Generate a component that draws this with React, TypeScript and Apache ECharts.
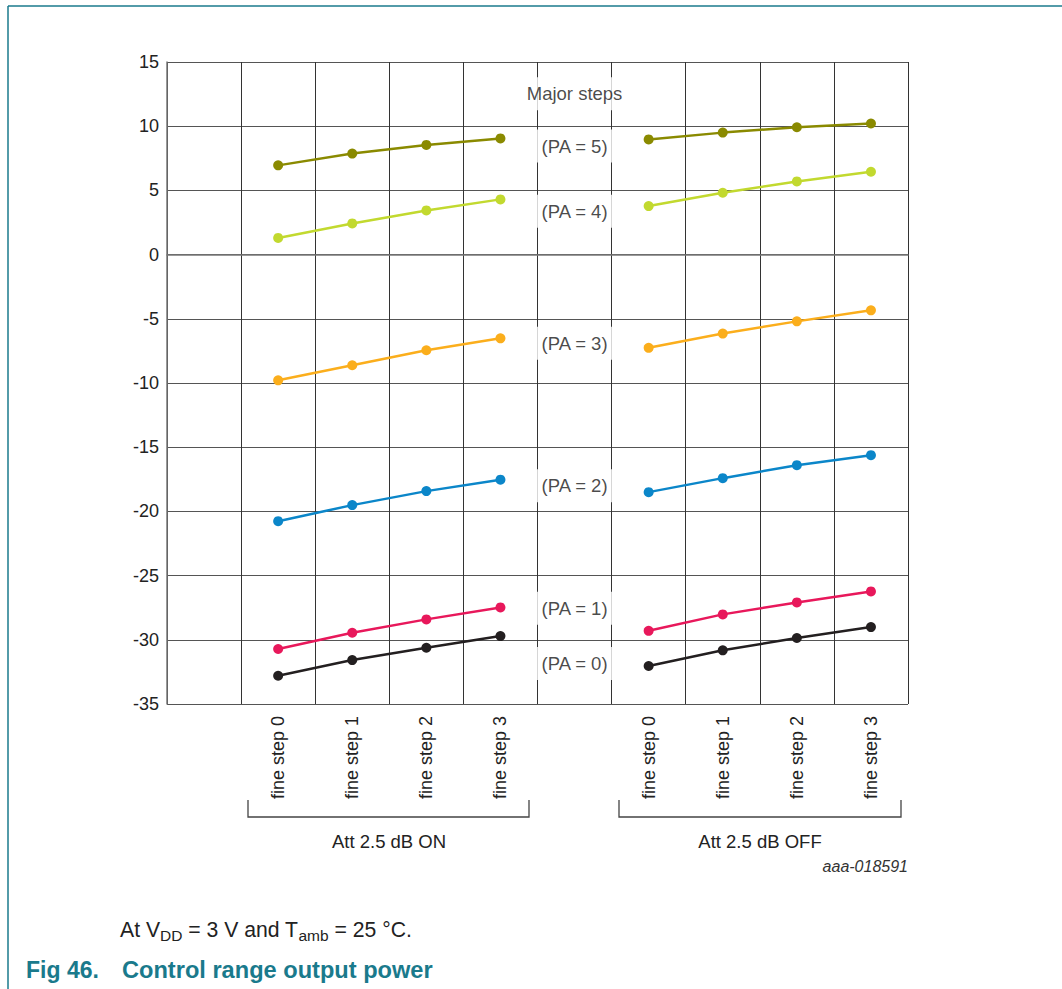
import React, { useEffect, useRef } from "react";
import * as echarts from "echarts";

const categories = [
  "",
  "fine step 0",
  "fine step 1",
  "fine step 2",
  "fine step 3",
  "",
  "fine step 0",
  "fine step 1",
  "fine step 2",
  "fine step 3",
];

const pa5 = [null, 6.95, 7.87, 8.54, 9.05, null, 8.97, 9.5, 9.92, 10.21];
const pa4 = [null, 1.3, 2.43, 3.44, 4.3, null, 3.78, 4.82, 5.7, 6.45];
const pa3 = [null, -9.79, -8.62, -7.45, -6.52, null, -7.26, -6.15, -5.2, -4.34];
const pa2 = [null, -20.76, -19.51, -18.42, -17.53, null, -18.5, -17.41, -16.4, -15.62];
const pa1 = [null, -30.72, -29.45, -28.41, -27.48, null, -29.3, -28.02, -27.09, -26.23];
const pa0 = [null, -32.8, -31.58, -30.62, -29.71, null, -32.04, -30.82, -29.86, -29.01];

const seriesNames = ["PA = 5", "PA = 4", "PA = 3", "PA = 2", "PA = 1", "PA = 0"];
const seriesValues = [pa5, pa4, pa3, pa2, pa1, pa0];
const seriesColors = ["#8a8a00", "#c2d92f", "#fbae1c", "#0b86c9", "#e8185b", "#231f20"];

const annotationTexts = ["Major steps", "(PA = 5)", "(PA = 4)", "(PA = 3)", "(PA = 2)", "(PA = 1)", "(PA = 0)"];
const annotationValues = [12.53, 8.45, 3.37, -6.9, -18.0, -27.55, -31.85];
const annotationCategoryIndex = 5;

const yMin = -35;
const yMax = 15;
const yInterval = 5;

const FONT = '"Liberation Sans", Arial, Helvetica, sans-serif';
const TEAL = "#1a7a8c";

export default function App() {
  const ref = useRef<HTMLDivElement>(null);

  useEffect(() => {
    if (!ref.current) return;
    const chart = echarts.init(ref.current, undefined, { renderer: "svg" });

    const lineSeries = seriesValues.map((vals, i) => ({
      name: seriesNames[i],
      type: "line",
      data: vals,
      connectNulls: false,
      symbol: "circle",
      symbolSize: 10,
      showAllSymbol: true,
      lineStyle: { color: seriesColors[i], width: 2.5 },
      itemStyle: { color: seriesColors[i] },
      z: 3,
    }));

    const annotationSeries = {
      type: "scatter",
      silent: true,
      symbolSize: 0,
      z: 4,
      data: annotationValues.map((v, i) => ({
        value: [annotationCategoryIndex, v],
        name: annotationTexts[i],
      })),
      label: {
        show: true,
        position: "inside",
        formatter: (p: any) => p.name,
        fontFamily: FONT,
        fontSize: 18.5,
        color: "#1a1a1a",
        backgroundColor: "#ffffff",
        width: 80,
        align: "center",
        padding: [7, 0],
      },
    };

    chart.setOption({
      animation: false,
      backgroundColor: "#ffffff",
      textStyle: { fontFamily: FONT },
      grid: { left: 167, top: 62, width: 741, height: 642, containLabel: false },
      xAxis: {
        type: "category",
        data: categories,
        boundaryGap: true,
        axisLine: { show: true, lineStyle: { color: "#777", width: 1.5 } },
        axisTick: { show: false },
        splitLine: { show: true, lineStyle: { color: "#333", width: 1 } },
        axisLabel: {
          interval: 0,
          rotate: 90,
          margin: 12,
          fontSize: 18,
          fontFamily: FONT,
          color: "#222",
        },
      },
      yAxis: {
        type: "value",
        min: yMin,
        max: yMax,
        interval: yInterval,
        axisLine: { show: true, lineStyle: { color: "#777", width: 1.5 } },
        axisTick: { show: false },
        splitLine: { show: true, lineStyle: { color: "#555", width: 1 } },
        axisLabel: {
          fontSize: 18,
          fontFamily: FONT,
          color: "#222",
          margin: 8,
        },
      },
      series: [...lineSeries, annotationSeries],
      graphic: [
        {
          type: "line",
          shape: { x1: 8, y1: 6, x2: 1062, y2: 6 },
          style: { stroke: TEAL, lineWidth: 1.5 },
        },
        {
          type: "line",
          shape: { x1: 8, y1: 6, x2: 8, y2: 989 },
          style: { stroke: TEAL, lineWidth: 1.5 },
        },
        {
          type: "polyline",
          shape: { points: [[248, 800], [248, 817], [529, 817], [529, 800]] },
          style: { stroke: "#444", lineWidth: 1.3, fill: "none" },
        },
        {
          type: "polyline",
          shape: { points: [[619, 800], [619, 817], [901, 817], [901, 800]] },
          style: { stroke: "#444", lineWidth: 1.3, fill: "none" },
        },
        {
          type: "text",
          x: 389,
          y: 841,
          style: {
            text: "Att 2.5 dB ON",
            fontSize: 18.5,
            fontFamily: FONT,
            fill: "#222",
            align: "center",
            verticalAlign: "middle",
          },
        },
        {
          type: "text",
          x: 760,
          y: 841,
          style: {
            text: "Att 2.5 dB OFF",
            fontSize: 18.5,
            fontFamily: FONT,
            fill: "#222",
            align: "center",
            verticalAlign: "middle",
          },
        },
        {
          type: "text",
          x: 908,
          y: 866,
          style: {
            text: "aaa-018591",
            fontSize: 16,
            fontStyle: "italic",
            fontFamily: FONT,
            fill: "#333",
            align: "right",
            verticalAlign: "middle",
          },
        },
        {
          type: "text",
          x: 120,
          y: 929,
          style: {
            text: "At V{sub|DD} = 3 V and T{sub|amb} = 25 °C.",
            fontSize: 21.2,
            fontFamily: FONT,
            fill: "#222",
            align: "left",
            verticalAlign: "middle",
            lineHeight: 28,
            rich: {
              sub: {
                fontSize: 15.5,
                fontFamily: FONT,
                fill: "#222",
                verticalAlign: "bottom",
                lineHeight: 16,
              },
            },
          },
        },
        {
          type: "text",
          x: 26,
          y: 970,
          style: {
            text: "Fig 46.",
            fontSize: 23,
            fontWeight: "bold",
            fontFamily: FONT,
            fill: TEAL,
            align: "left",
            verticalAlign: "middle",
          },
        },
        {
          type: "text",
          x: 122,
          y: 970,
          style: {
            text: "Control range output power",
            fontSize: 23.6,
            fontWeight: "bold",
            fontFamily: FONT,
            fill: TEAL,
            align: "left",
            verticalAlign: "middle",
          },
        },
      ],
    });

    return () => {
      chart.dispose();
    };
  }, []);

  return (
    <div
      ref={ref}
      style={{ position: "fixed", left: 0, top: 0, width: 1062, height: 989, background: "#fff" }}
    />
  );
}
